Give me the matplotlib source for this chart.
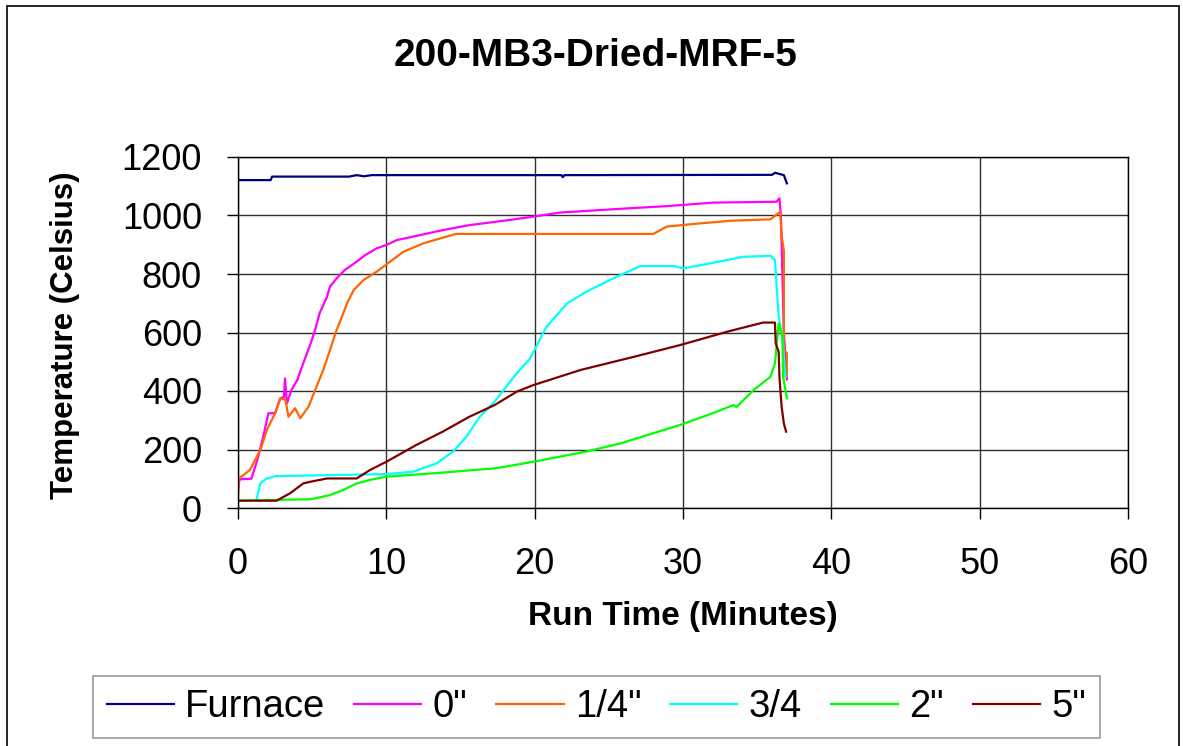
import numpy as np
import matplotlib.pyplot as plt
from matplotlib.patches import Rectangle

plt.rcParams['font.family'] = ['Liberation Sans', 'DejaVu Sans']

# thermocouple readings, run time in minutes / temperature in C
t_furnace = [0, 2.2, 2.3, 7.5, 8.0, 8.5, 9.0, 21.8, 21.9, 22.0, 36.0, 36.2, 36.8, 37.0]
T_furnace = [1121, 1121, 1133, 1133, 1138, 1134, 1138, 1138, 1131, 1138, 1139, 1146, 1138, 1110]

t_0in = [0, 0.1, 0.9, 1.3, 1.7, 2.05, 2.5, 2.85, 3.1, 3.17, 3.3, 3.6, 4.0, 4.4, 4.9, 5.2, 5.5,
         6.0, 6.2, 6.65, 7.2, 8.0, 8.5, 9.35, 10.0, 10.7, 12.0, 13.8, 15.6, 17.9, 19.9, 21.7,
         25.8, 28.9, 32.0, 36.3, 36.5, 36.6, 36.8, 37.0]
T_0in = [60, 98, 100, 164, 244, 324, 324, 375, 380, 443, 358, 403, 438, 495, 563, 609, 666,
         722, 757, 785, 814, 842, 862, 888, 899, 916, 930, 950, 967, 982, 996, 1010,
         1023, 1032, 1044, 1047, 1059, 1000, 600, 440]

t_quarter = [0, 0.05, 0.8, 1.5, 1.95, 2.5, 2.85, 3.2, 3.4, 3.85, 4.2, 4.75, 5.2, 5.75, 6.2, 6.65,
             7.1, 7.35, 7.8, 8.45, 9.35, 10.25, 11.15, 12.5, 13.85, 14.7, 28.0, 28.9, 30.7, 33.2,
             35.9, 36.55, 36.65, 36.8, 36.8, 37.0, 37.0]
T_quarter = [45, 100, 130, 198, 267, 324, 375, 370, 312, 341, 307, 346, 403, 472, 540, 609,
             666, 700, 745, 779, 808, 842, 876, 905, 925, 937, 937, 962, 971, 982,
             987, 1013, 930, 880, 540, 530, 450]

t_3q = [1.25, 1.5, 1.9, 2.5, 10.0, 11.8, 13.4, 14.5, 15.4, 16.3, 17.2, 17.9, 18.6, 19.7, 20.8,
        22.2, 23.5, 25.3, 27.1, 29.4, 30.0, 31.8, 34.1, 35.9, 36.2, 36.3, 36.45, 36.7, 36.9]
T_3q = [30, 84, 100, 109, 116, 124, 153, 193, 244, 312, 358, 403, 449, 512, 620,
        700, 740, 785, 827, 827, 819, 836, 859, 862, 848, 768, 654, 586, 449]

t_2in = [0, 4.9, 6.2, 7.1, 8.0, 8.9, 10.0, 13.8, 17.4, 19.9, 23.5, 25.8, 29.8, 32.0, 33.4,
         33.6, 34.75, 35.9, 36.2, 36.45, 36.7, 36.75, 37.0]
T_2in = [25, 30, 44, 62, 84, 96, 107, 121, 136, 158, 193, 221, 284, 324, 352,
         345, 403, 449, 495, 631, 586, 449, 375]

t_5in = [0, 2.6, 3.5, 4.4, 4.9, 6.0, 8.0, 8.9, 10.0, 12.0, 13.8, 15.6, 17.3, 18.8, 19.9, 23.1,
         26.7, 29.8, 33.0, 35.4, 36.2, 36.25, 36.45, 36.5, 36.65, 36.8, 36.95]
T_5in = [25, 25, 50, 84, 90, 101, 101, 130, 158, 215, 261, 312, 352, 398, 420, 472,
         517, 557, 603, 634, 634, 563, 534, 449, 346, 289, 261]

series = [
    ('Furnace', t_furnace, T_furnace, '#000080'),
    ('0"', t_0in, T_0in, '#FF00FF'),
    ('1/4"', t_quarter, T_quarter, '#FF6600'),
    ('3/4', t_3q, T_3q, '#00FFFF'),
    ('2"', t_2in, T_2in, '#00FF00'),
    ('5"', t_5in, T_5in, '#800000'),
]

W, H = 1183, 746
fig = plt.figure(figsize=(W / 100, H / 100), dpi=100)
ax = fig.add_axes([238 / W, 1 - 508 / H, (1128 - 238) / W, (508 - 157) / H])

for name, t, T, c in series:
    ax.plot(t, T, color=c, lw=1.6, label=name)

ax.set_xlim(0, 60)
ax.set_ylim(0, 1200)
ax.set_xticks(np.arange(0, 61, 10))
ax.set_yticks(np.arange(0, 1201, 200))
ax.grid(True, color='#303030', lw=1)
ax.set_axisbelow(True)
for s in ax.spines.values():
    s.set_color('black')
    s.set_linewidth(1)
ax.tick_params(axis='both', direction='out', length=8, width=1, labelsize=26)
ax.tick_params(axis='x', pad=20)
ax.tick_params(axis='y', pad=18)

ax.set_xlabel('Run Time (Minutes)', fontsize=24, fontweight='bold', labelpad=14)
fig.text(65 / W, 1 - 335 / H, 'Temperature (Celsius)', fontsize=22.5, fontweight='bold',
         rotation=90, ha='center', va='center')
fig.text(596 / W, 1 - 56 / H, '200-MB3-Dried-MRF-5', fontsize=28, fontweight='bold',
         ha='center', va='center')

leg = fig.legend(loc='center', bbox_to_anchor=(596.5 / W, 1 - 707 / H), ncol=6, fontsize=27.5,
                 frameon=True, fancybox=False, handlelength=1.76, handletextpad=0.3,
                 columnspacing=0.75, borderpad=0.35)
leg.get_frame().set_edgecolor('#808080')
leg.get_frame().set_linewidth(1.2)

# outer chart border
fig.patches.append(Rectangle((7 / W, -0.01), (1179 - 7) / W, 1 - 6 / H + 0.01,
                             transform=fig.transFigure, fill=False, ec='black', lw=1.2))

fig.savefig('out.png', dpi=100)
